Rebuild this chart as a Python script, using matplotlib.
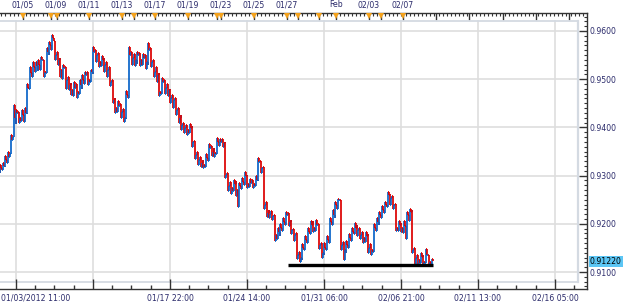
import matplotlib
matplotlib.use("Agg")
import matplotlib.pyplot as plt
import matplotlib.transforms as mtransforms
from matplotlib.collections import LineCollection
import numpy as np

# ---- data (4-hour bars, index = bar number) ----
closes = [
    0.9316, 0.9320, 0.9332, 0.9339, 0.9374, 0.9420, 0.9430, 0.9420, 0.9426, 0.9430,
    0.9482, 0.9513, 0.9525, 0.9527, 0.9529, 0.9540, 0.9515, 0.9556, 0.9571, 0.9585,
    0.9550, 0.9540, 0.9519, 0.9523, 0.9498, 0.9488, 0.9478, 0.9482, 0.9473, 0.9488,
    0.9498, 0.9509, 0.9498, 0.9515, 0.9556, 0.9550, 0.9536, 0.9540, 0.9529, 0.9519,
    0.9494, 0.9457, 0.9440, 0.9444, 0.9432, 0.9420, 0.9467, 0.9550, 0.9544, 0.9540,
    0.9550, 0.9540, 0.9544, 0.9536, 0.9561, 0.9536, 0.9515, 0.9509, 0.9473, 0.9494,
    0.9482, 0.9478, 0.9461, 0.9457, 0.9436, 0.9420, 0.9405, 0.9399, 0.9395, 0.9399,
    0.9370, 0.9343, 0.9332, 0.9326, 0.9322, 0.9336, 0.9357, 0.9349, 0.9347, 0.9370,
    0.9370, 0.9368, 0.9301, 0.9278, 0.9274, 0.9283, 0.9270, 0.9278, 0.9287, 0.9299,
    0.9283, 0.9285, 0.9283, 0.9291, 0.9328, 0.9316, 0.9239, 0.9222, 0.9220, 0.9216,
    0.9177, 0.9183, 0.9191, 0.9204, 0.9218, 0.9204, 0.9187, 0.9177, 0.9135, 0.9129,
    0.9150, 0.9166, 0.9183, 0.9198, 0.9191, 0.9198, 0.9156, 0.9140, 0.9150, 0.9166,
    0.9204, 0.9218, 0.9239, 0.9249, 0.9156, 0.9146, 0.9156, 0.9170, 0.9183, 0.9191,
    0.9187, 0.9177, 0.9170, 0.9174, 0.9150, 0.9146, 0.9191, 0.9204, 0.9218, 0.9229,
    0.9239, 0.9260, 0.9253, 0.9239, 0.9191, 0.9198, 0.9191, 0.9195, 0.9218, 0.9225,
    0.9146, 0.9129, 0.9125, 0.9131, 0.9121, 0.9135, 0.9121, 0.9122,
]
lows = [
    0.9305, 0.9312, 0.9318, 0.9326, 0.9345, 0.9380, 0.9408, 0.9410, 0.9414, 0.9412,
    0.9428, 0.9480, 0.9505, 0.9515, 0.9518, 0.9520, 0.9505, 0.9512, 0.9550, 0.9560,
    0.9540, 0.9530, 0.9505, 0.9500, 0.9480, 0.9478, 0.9468, 0.9465, 0.9462, 0.9470,
    0.9480, 0.9490, 0.9488, 0.9494, 0.9510, 0.9535, 0.9525, 0.9528, 0.9515, 0.9505,
    0.9485, 0.9450, 0.9430, 0.9432, 0.9420, 0.9411, 0.9418, 0.9460, 0.9530, 0.9528,
    0.9532, 0.9528, 0.9530, 0.9522, 0.9530, 0.9525, 0.9505, 0.9495, 0.9465, 0.9470,
    0.9470, 0.9465, 0.9450, 0.9440, 0.9425, 0.9410, 0.9395, 0.9388, 0.9385, 0.9388,
    0.9360, 0.9335, 0.9322, 0.9318, 0.9315, 0.9318, 0.9330, 0.9340, 0.9338, 0.9345,
    0.9362, 0.9360, 0.9295, 0.9268, 0.9262, 0.9268, 0.9258, 0.9235, 0.9272, 0.9280,
    0.9275, 0.9276, 0.9275, 0.9278, 0.9288, 0.9305, 0.9230, 0.9215, 0.9212, 0.9208,
    0.9165, 0.9168, 0.9175, 0.9185, 0.9198, 0.9195, 0.9178, 0.9165, 0.9128, 0.9120,
    0.9125, 0.9145, 0.9160, 0.9178, 0.9182, 0.9185, 0.9148, 0.9130, 0.9135, 0.9145,
    0.9160, 0.9198, 0.9212, 0.9230, 0.9145, 0.9125, 0.9140, 0.9150, 0.9165, 0.9178,
    0.9175, 0.9168, 0.9160, 0.9162, 0.9140, 0.9135, 0.9142, 0.9185, 0.9198, 0.9212,
    0.9222, 0.9235, 0.9240, 0.9230, 0.9185, 0.9185, 0.9182, 0.9180, 0.9168, 0.9205,
    0.9140, 0.9115, 0.9112, 0.9118, 0.9112, 0.9118, 0.9112, 0.9116,
]
highs = [
    0.9322, 0.9326, 0.9340, 0.9350, 0.9385, 0.9446, 0.9436, 0.9432, 0.9436, 0.9440,
    0.9490, 0.9525, 0.9535, 0.9535, 0.9540, 0.9546, 0.9540, 0.9565, 0.9578, 0.9592,
    0.9580, 0.9556, 0.9545, 0.9530, 0.9525, 0.9505, 0.9492, 0.9495, 0.9490, 0.9498,
    0.9508, 0.9515, 0.9515, 0.9520, 0.9567, 0.9560, 0.9555, 0.9548, 0.9545, 0.9535,
    0.9525, 0.9498, 0.9462, 0.9455, 0.9448, 0.9438, 0.9475, 0.9567, 0.9556, 0.9552,
    0.9556, 0.9555, 0.9552, 0.9550, 0.9575, 0.9565, 0.9540, 0.9525, 0.9512, 0.9502,
    0.9498, 0.9490, 0.9480, 0.9468, 0.9460, 0.9440, 0.9425, 0.9410, 0.9405, 0.9408,
    0.9402, 0.9372, 0.9348, 0.9338, 0.9332, 0.9345, 0.9365, 0.9362, 0.9358, 0.9377,
    0.9376, 0.9375, 0.9370, 0.9305, 0.9286, 0.9290, 0.9288, 0.9285, 0.9295, 0.9308,
    0.9302, 0.9292, 0.9290, 0.9300, 0.9336, 0.9330, 0.9318, 0.9245, 0.9228, 0.9226,
    0.9218, 0.9192, 0.9200, 0.9212, 0.9225, 0.9222, 0.9208, 0.9190, 0.9180, 0.9142,
    0.9158, 0.9175, 0.9192, 0.9206, 0.9205, 0.9208, 0.9200, 0.9160, 0.9160, 0.9175,
    0.9212, 0.9228, 0.9245, 0.9252, 0.9250, 0.9162, 0.9165, 0.9178, 0.9192, 0.9202,
    0.9198, 0.9192, 0.9182, 0.9182, 0.9178, 0.9158, 0.9200, 0.9212, 0.9225, 0.9236,
    0.9245, 0.9265, 0.9262, 0.9258, 0.9242, 0.9205, 0.9202, 0.9205, 0.9225, 0.9230,
    0.9228, 0.9150, 0.9135, 0.9140, 0.9135, 0.9148, 0.9135, 0.9128,
]
last_price = 0.91220

support_x = [104.7, 157.5]
support_y = [0.9115, 0.9115]

bottom_tick_pos = [5.8, 33.8, 61.8, 89.8, 117.8, 145.8, 173.8, 201.8]
bottom_tick_labels = ["", "", "01/17 22:00", "01/24 14:00", "01/31 06:00",
                      "02/06 21:00", "02/11 13:00", "02/16 05:00"]
first_label = "01/03/2012 11:00"

top_label_pos = [8.4, 20.4, 32.4, 44.4, 56.4, 68.4, 80.4, 92.4, 104.4, 122.2, 134.2, 146.5]
top_labels = ["01/05", "01/09", "01/11", "01/13", "01/17", "01/19", "01/23",
              "01/25", "01/27", "Feb", "02/03", "02/07"]
top_marker_pos = [8.4, 18.5, 20.7, 32.4, 44.4, 48.7, 56.4, 68.4, 78.9, 80.4, 92.4,
                  104.4, 108.4, 116.0, 122.2, 134.2, 138.5, 146.5]
top_long_ticks = [158.5, 170.7, 182.9, 194.9, 206.9]

y_ticks = [0.91, 0.92, 0.93, 0.94, 0.95, 0.96]
y_labels = ["0.9100", "0.9200", "0.9300", "0.9400", "0.9500", "0.9600"]

# ---- style ----
RED = "#dc0000"
BLUE = "#0a64c8"
TXT = "#2b2b6b"
GRID = "#dedede"
FS = 5.6

W, H = 625, 306
fig = plt.figure(figsize=(W / 100, H / 100), dpi=100)
ax = fig.add_axes([0 / W, (H - 289) / H, 587 / W, 276 / H])

ppu = 4820.0  # pixels per price unit
ax.set_ylim(0.91 - 17 / ppu, 0.96 + 18 / ppu)
ax.set_xlim(0, 587 / 2.75)

ymin_f = (289 - 282) / 276
ymax_f = (289 - 21) / 276
xmax_f = 578 / 587

# grid (inside inner plot area)
for xp in bottom_tick_pos:
    ax.axvline(xp, ymin=ymin_f, ymax=ymax_f, color=GRID, lw=1.2, zorder=0)
for yp in y_ticks:
    ax.axhline(yp, xmin=0, xmax=xmax_f, color=GRID, lw=1.2, zorder=0)

# inner border
bc = "#d4dae2"
ax.plot([0, xmax_f], [ymax_f, ymax_f], transform=ax.transAxes, color=bc, lw=1.3, zorder=1)
ax.plot([0, xmax_f], [ymin_f, ymin_f], transform=ax.transAxes, color=bc, lw=1.3, zorder=1)
ax.plot([xmax_f, xmax_f], [ymin_f, ymax_f], transform=ax.transAxes, color=bc, lw=1.6, zorder=1)

# choppy step line: within each bar the path visits low/high before the close
segs, cols = [], []
prev = closes[0]
prev_x = 0.0
for i, (c, lo, hi) in enumerate(zip(closes, lows, highs)):
    if c >= prev:
        path = [prev, lo, hi, c]
    else:
        path = [prev, hi, lo, c]
    xs = [i - 0.33, i, i + 0.33]
    for k in range(3):
        x = max(xs[k], 0)
        segs.append([(prev_x, path[k]), (x, path[k])])
        col = BLUE if path[k + 1] >= path[k] else RED
        cols.append(col)
        segs.append([(x, path[k]), (x, path[k + 1])])
        cols.append(col)
        prev_x = x
    prev = c
lc = LineCollection(segs, colors=cols, linewidths=1.25, capstyle="butt", zorder=3)
ax.add_collection(lc)

# support line
ax.plot(support_x, support_y, color="black", lw=2.4, zorder=4, solid_capstyle="butt")

# spines
ax.spines["left"].set_visible(False)
for s in ["top", "bottom", "right"]:
    ax.spines[s].set_color("#333333")
    ax.spines[s].set_linewidth(1.0)

# bottom axis ticks
ax.xaxis.set_ticks_position("bottom")
ax.set_xticks(bottom_tick_pos)
ax.set_xticklabels(bottom_tick_labels)
minor_b = [bottom_tick_pos[0] + 7 * k for k in range(-1, 30) if 0 <= bottom_tick_pos[0] + 7 * k <= 213]
ax.set_xticks(minor_b, minor=True)
ax.tick_params(axis="x", which="major", direction="in", length=7, width=1,
               color="#333333", labelsize=FS, labelcolor=TXT, pad=3)
ax.tick_params(axis="x", which="minor", direction="in", length=3, width=1, color="#333333")
bt = mtransforms.blended_transform_factory(ax.transData, ax.transAxes)
ax.text(0.2, -0.034, first_label, transform=bt, ha="left", va="center", fontsize=FS, color=TXT)

# top axis ruler
sec = ax.secondary_xaxis("top")
sec.set_xticks(top_marker_pos + top_long_ticks)
sec.set_xticklabels([])
sec.set_xticks(list(np.arange(0.5, 213, 1.5)), minor=True)
sec.tick_params(axis="x", which="major", direction="in", length=5, width=1, color="#333333")
sec.tick_params(axis="x", which="minor", direction="in", length=2.5, width=0.8, color="#333333")
sec.spines["top"].set_visible(False)

ax.plot(top_marker_pos, [0.990] * len(top_marker_pos), linestyle="none", marker="v",
        markersize=4.5, color="#f5a21b", markeredgewidth=0, transform=bt, clip_on=False, zorder=6)
for xp, lab in zip(top_label_pos, top_labels):
    ax.text(xp, 1.029, lab, transform=bt, ha="center", va="center", fontsize=FS, color=TXT)

# right axis
ax.yaxis.set_ticks_position("right")
ax.set_yticks(y_ticks)
ax.set_yticklabels(y_labels)
ax.set_yticks(list(np.arange(0.907, 0.9636, 0.001)), minor=True)
ax.tick_params(axis="y", which="major", direction="in", length=6, width=1,
               color="#333333", labelsize=FS, labelcolor=TXT, pad=2)
ax.tick_params(axis="y", which="minor", direction="in", length=2.5, width=0.8, color="#333333")

# last price box
ax.annotate(f"{last_price:.5f}", xy=(1.0, last_price),
            xycoords=mtransforms.blended_transform_factory(ax.transAxes, ax.transData),
            xytext=(2, 0), textcoords="offset points", ha="left", va="center",
            fontsize=FS, color="black",
            bbox=dict(boxstyle="square,pad=0.15", facecolor="#5cc6f5", edgecolor="none"),
            annotation_clip=False, zorder=7)

fig.savefig("out.png", dpi=100)
